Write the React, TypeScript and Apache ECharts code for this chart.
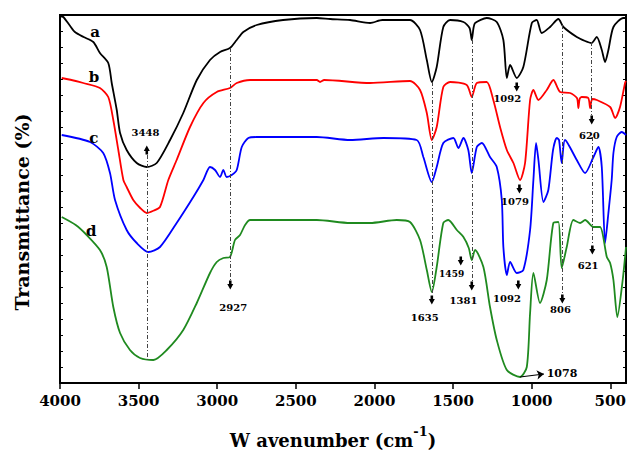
import React, { useEffect, useRef } from "react";
import * as echarts from "echarts";

// [wavenumber (cm-1), transmittance (arbitrary, offset curves)]
const seriesA: number[][] = [
  [4000, 367], [3979, 366], [3940, 358], [3905, 351], [3850, 346], [3788, 341], [3746, 330], [3693, 320],
  [3671, 300], [3639, 273], [3618, 250], [3576, 233], [3512, 220], [3448, 216], [3385, 220], [3300, 243],
  [3216, 270], [3130, 303], [3046, 323], [2982, 331], [2919, 335], [2876, 343], [2834, 351], [2749, 358],
  [2581, 363], [2367, 365], [2282, 364], [2155, 363], [2028, 360], [1950, 363], [1774, 363], [1710, 353],
  [1667, 323], [1635, 301], [1604, 316], [1562, 356], [1519, 363], [1434, 361], [1395, 355], [1381, 343],
  [1370, 355], [1360, 360], [1286, 365], [1222, 361], [1180, 343], [1158, 305], [1137, 318], [1095, 305],
  [1053, 316], [999, 360], [968, 363], [936, 350], [883, 356], [830, 364], [798, 356], [713, 346],
  [660, 342], [620, 340], [586, 346], [554, 333], [533, 321], [512, 333], [480, 356], [417, 365], [400, 365],
];
const seriesB: number[][] = [
  [3989, 305], [3900, 302], [3852, 300], [3746, 295], [3693, 286], [3661, 263], [3629, 233], [3597, 203],
  [3576, 196], [3534, 183], [3490, 175], [3448, 170], [3410, 172], [3364, 176], [3311, 203], [3258, 223],
  [3173, 256], [3088, 280], [3003, 291], [2919, 295], [2876, 300], [2791, 303], [2367, 303], [2346, 301],
  [2320, 303], [2028, 300], [1774, 302], [1710, 293], [1667, 270], [1635, 243], [1604, 256], [1562, 296],
  [1519, 301], [1413, 298], [1381, 286], [1349, 300], [1286, 301], [1244, 283], [1201, 256], [1158, 233],
  [1116, 220], [1074, 203], [1042, 220], [1010, 283], [989, 293], [957, 283], [904, 293], [862, 303],
  [819, 291], [756, 290], [712, 285], [703, 275], [695, 284], [681, 286], [640, 285], [628, 275],
  [615, 284], [586, 283], [501, 276], [469, 265], [438, 276], [406, 300], [400, 302],
];
const seriesC: number[][] = [
  [3989, 248], [3809, 241], [3725, 230], [3682, 210], [3650, 183], [3576, 153], [3512, 140], [3438, 131],
  [3364, 136], [3258, 160], [3152, 186], [3088, 203], [3046, 216], [3014, 213], [2982, 206], [2961, 213],
  [2940, 206], [2908, 208], [2876, 213], [2844, 236], [2802, 245], [2749, 246], [2367, 246], [2155, 243],
  [1943, 245], [1731, 243], [1689, 226], [1635, 201], [1604, 216], [1562, 240], [1498, 245], [1466, 235],
  [1434, 245], [1403, 233], [1381, 210], [1349, 236], [1317, 240], [1265, 226], [1222, 216], [1190, 183],
  [1180, 136], [1158, 108], [1137, 121], [1095, 110], [1053, 113], [1010, 153], [989, 203], [972, 240],
  [957, 223], [925, 181], [894, 193], [864, 233], [840, 245], [826, 243], [809, 220], [788, 243],
  [713, 223], [660, 210], [607, 226], [576, 236], [554, 216], [533, 140], [512, 170], [491, 203],
  [480, 230], [459, 246], [427, 251], [400, 248],
];
const seriesD: number[][] = [
  [3989, 166], [3900, 158], [3830, 148], [3746, 133], [3703, 116], [3661, 76], [3618, 50], [3555, 33],
  [3491, 25], [3406, 23], [3321, 33], [3216, 53], [3130, 80], [3046, 110], [3003, 121], [2961, 125],
  [2919, 126], [2887, 143], [2855, 148], [2823, 158], [2791, 163], [2367, 163], [2155, 160], [2028, 160],
  [1858, 163], [1774, 161], [1710, 143], [1667, 113], [1635, 91], [1604, 116], [1562, 160], [1530, 163],
  [1476, 153], [1434, 146], [1400, 135], [1381, 123], [1360, 133], [1307, 116], [1265, 76], [1222, 43],
  [1158, 13], [1074, 6], [1031, 16], [1010, 70], [989, 110], [947, 80], [904, 103], [862, 160],
  [830, 161], [809, 115], [777, 136], [735, 163], [692, 160], [660, 163], [607, 156], [565, 156],
  [522, 126], [501, 120], [480, 103], [455, 66], [421, 103], [400, 136],
];

const curveNames = ["a", "b", "c", "d"];
const curveColors = ["#000000", "#ff0000", "#0000ff", "#1f8a1f"];
// [x, y] positions of the curve letters
const curveLabelPos: number[][] = [[3777, 351], [3784, 306], [3785, 245], [3801, 152]];

const xTicks = [500, 1000, 1500, 2000, 2500, 3000, 3500, 4000];

// dashed guide lines: [wavenumber, yFrom, yTo]
const guideLines: number[][] = [
  [3448, 228, 23], [2917, 335, 103], [1635, 301, 90], [1381, 343, 101],
  [805, 358, 90], [618, 341, 268], [614, 246, 138],
];
// arrows: [wavenumber, y, up(1)/down(0)]
const arrows: number[][] = [
  [3448, 233, 1], [2917, 98, 0], [1635, 83, 0], [1381, 97, 0], [1451, 122, 0], [1095, 296, 0],
  [1078, 194, 0], [1085, 98, 0], [805, 84, 0], [618, 263, 0], [614, 133, 0],
];
// peak labels: [text, wavenumber, y, fontSize]
const peakLabels: [string, number, number, number][] = [
  ["3448", 3456, 251, 10], ["2927", 2898, 76, 10], ["1635", 1680, 66, 10], ["1381", 1434, 83, 10],
  ["1459", 1509, 109, 9], ["1092", 1155, 285, 10], ["1079", 1106, 182, 10], ["1092", 1157, 85, 10],
  ["806", 817, 74, 10], ["620", 633, 248, 10], ["621", 641, 118, 10], ["1078", 807, 10, 11],
];
// pointer line for 1078: [x1, y1, x2, y2]
const pointer1078 = [1074, 6, 922, 9];

const FONT = "DejaVu Serif";
const ARROW = "path://M2,0 H5 V4 H7 L3.5,10 L0,4 H2 Z";

export default function App() {
  const ref = useRef<HTMLDivElement>(null);
  useEffect(() => {
    if (!ref.current) return;
    const chart = echarts.init(ref.current, undefined, { renderer: "svg" });
    const allSeries = [seriesA, seriesB, seriesC, seriesD];
    const series: any[] = allSeries.map((d, i) => ({
      type: "line",
      name: curveNames[i],
      data: d,
      showSymbol: false,
      smooth: 0.25,
      lineStyle: { color: curveColors[i], width: 1.8 },
      itemStyle: { color: curveColors[i] },
      z: 3,
    }));
    const markLineData: any[] = guideLines.map(([x, y1, y2]) => [
      { coord: [x, y1] },
      { coord: [x, y2] },
    ]);
    const markPointData: any[] = [];
    arrows.forEach(([x, y, up]) => {
      markPointData.push({
        coord: [x, y],
        symbol: ARROW,
        symbolSize: [6, 9],
        symbolRotate: up ? 180 : 0,
        itemStyle: { color: "#000" },
        label: { show: false },
      });
    });
    peakLabels.forEach(([t, x, y, fs]) => {
      markPointData.push({
        coord: [x, y],
        symbol: "rect",
        symbolSize: 1,
        itemStyle: { color: "rgba(0,0,0,0)" },
        label: {
          show: true,
          position: "inside",
          formatter: t,
          fontSize: fs,
          fontWeight: "bold",
          fontFamily: FONT,
          color: "#000",
        },
      });
    });
    curveNames.forEach((n, i) => {
      markPointData.push({
        coord: curveLabelPos[i],
        symbol: "rect",
        symbolSize: 1,
        itemStyle: { color: "rgba(0,0,0,0)" },
        label: {
          show: true,
          position: "inside",
          formatter: n,
          fontSize: 15,
          fontWeight: "bold",
          fontFamily: FONT,
          color: "#000",
        },
      });
    });
    series.push({
      type: "line",
      name: "annotations",
      data: [],
      silent: true,
      z: 2,
      markLine: {
        silent: true,
        symbol: ["none", "none"],
        label: { show: false },
        lineStyle: { color: "#444", width: 1, type: [4, 2, 1, 2] },
        data: [
          ...markLineData,
          [
            { coord: [pointer1078[0], pointer1078[1]], symbol: "none" },
            {
              coord: [pointer1078[2], pointer1078[3]],
              symbol: "arrow",
              symbolSize: 7,
              lineStyle: { color: "#000", type: "solid", width: 1.2 },
            },
          ],
        ],
      },
      markPoint: { silent: true, data: markPointData },
    });

    chart.setOption({
      animation: false,
      backgroundColor: "#fff",
      grid: {
        left: 60,
        top: 15,
        width: 566,
        height: 368,
        outerBoundsMode: "none",
        containLabel: false,
        show: true,
        borderColor: "#000",
        borderWidth: 2,
        backgroundColor: "transparent",
      },
      xAxis: {
        type: "value",
        min: 400,
        max: 4000,
        inverse: true,
        axisLine: { lineStyle: { color: "#000", width: 2 } },
        axisTick: { show: true, customValues: xTicks, length: 6, inside: false, lineStyle: { color: "#000", width: 1.5 } },
        axisLabel: {
          customValues: xTicks,
          formatter: (v: number) => String(v),
          color: "#000",
          fontFamily: FONT,
          fontWeight: "bold",
          fontSize: 15,
          margin: 10,
        },
        splitLine: { show: false },
      },
      yAxis: [
        {
          type: "value",
          min: 0,
          max: 368,
          interval: 16,
          position: "left",
          axisLine: { show: true, lineStyle: { color: "#000", width: 2 } },
          axisTick: { show: true, inside: true, length: 3, lineStyle: { color: "#000" } },
          axisLabel: { show: false },
          splitLine: { show: false },
        },
        {
          type: "value",
          min: 0,
          max: 368,
          interval: 16,
          position: "right",
          axisLine: { show: true, lineStyle: { color: "#000", width: 2 } },
          axisTick: { show: true, inside: true, length: 3, lineStyle: { color: "#000" } },
          axisLabel: { show: false },
          splitLine: { show: false },
        },
      ],
      graphic: [
        {
          type: "text",
          x: 333,
          y: 437,
          style: {
            text: "{m|W avenumber (cm}{s|-1}{m|)}",
            align: "center",
            verticalAlign: "middle",
            fill: "#000",
            rich: {
              m: { fontFamily: FONT, fontWeight: "bold", fontSize: 18, lineHeight: 24, verticalAlign: "bottom" },
              s: { fontFamily: FONT, fontWeight: "bold", fontSize: 13, lineHeight: 24, verticalAlign: "top" },
            },
          },
        },
        {
          type: "text",
          x: 22,
          y: 212,
          rotation: Math.PI / 2,
          style: {
            text: "Transmittance (%)",
            align: "center",
            verticalAlign: "middle",
            fill: "#000",
            fontFamily: FONT,
            fontWeight: "bold",
            fontSize: 19,
          },
        },
      ],
      series,
    });
    return () => chart.dispose();
  }, []);
  return (
    <div
      ref={ref}
      style={{ position: "fixed", left: 0, top: 0, width: 627, height: 452, background: "#fff" }}
    />
  );
}
